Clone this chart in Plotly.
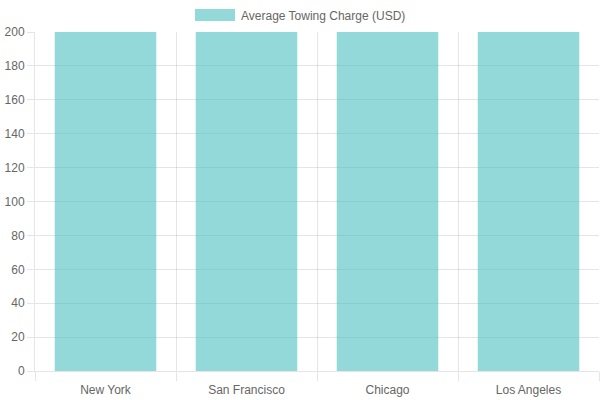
import plotly.graph_objects as go

cities = ['New York', 'San Francisco', 'Chicago', 'Los Angeles']
towing_charge = [200, 200, 200, 200]
y_ticks = [0, 20, 40, 60, 80, 100, 120, 140, 160, 180, 200]
series_name = 'Average Towing Charge (USD)'

grid = 'rgba(0,0,0,0.1)'
text_color = '#666666'
font_family = 'Liberation Sans, Arial, sans-serif'

fig = go.Figure()

fig.add_trace(go.Bar(
    x=cities,
    y=towing_charge,
    name=series_name,
    marker=dict(color='rgba(75,192,192,0.6)', line=dict(width=0)),
    showlegend=False,
    hoverinfo='x+y',
))

# invisible trace on the overlay axis so the boundary grid lines get drawn
fig.add_trace(go.Scatter(
    x=[-0.5, 3.5], y=[0, 0], xaxis='x2', mode='markers',
    marker=dict(opacity=0), showlegend=False, hoverinfo='skip',
))

fig.update_layout(
    width=600, height=400,
    margin=dict(l=35, r=1, t=32, b=29),
    paper_bgcolor='white', plot_bgcolor='white',
    font=dict(family=font_family, size=12, color=text_color),
    bargap=0.28,
    xaxis=dict(
        type='category', range=[-0.5, 3.5],
        showgrid=False, zeroline=False, showline=False,
        ticks='', tickfont=dict(size=12, color=text_color),
        ticklabelstandoff=10, automargin=False,
    ),
    xaxis2=dict(
        overlaying='x', range=[-0.5, 3.5],
        tickvals=[-0.5, 0.5, 1.5, 2.5, 3.5], showticklabels=False,
        showgrid=True, gridcolor=grid, gridwidth=1,
        ticks='outside', ticklen=9, tickcolor=grid,
        showline=True, linecolor=grid, zeroline=False,
        side='bottom', automargin=False,
    ),
    yaxis=dict(
        range=[0, 200], tickvals=y_ticks,
        showgrid=True, gridcolor=grid, gridwidth=1,
        zeroline=False, showline=True, linecolor=grid,
        ticks='outside', ticklen=7, tickcolor=grid,
        tickfont=dict(size=12, color=text_color),
        automargin=False,
    ),
)

# legend drawn by hand to get the wide Chart.js style swatch
fig.add_shape(
    type='rect', xref='paper', yref='paper',
    x0=(195 - 35) / 564, x1=(235 - 35) / 564,
    y0=1 + (32 - 21) / 339, y1=1 + (32 - 9) / 339,
    fillcolor='rgba(75,192,192,0.6)', line=dict(width=0),
)
fig.add_annotation(
    xref='paper', yref='paper',
    x=(239 - 35) / 564, y=1 + (32 - 15.5) / 339,
    xanchor='left', yanchor='middle',
    text=series_name, showarrow=False,
    font=dict(size=12, color=text_color, family=font_family),
)

# drop the default body margin so the chart sits at the page corner
fig.write_html('out.html', config={'displayModeBar': False},
               post_script="document.body.style.margin='0';")
